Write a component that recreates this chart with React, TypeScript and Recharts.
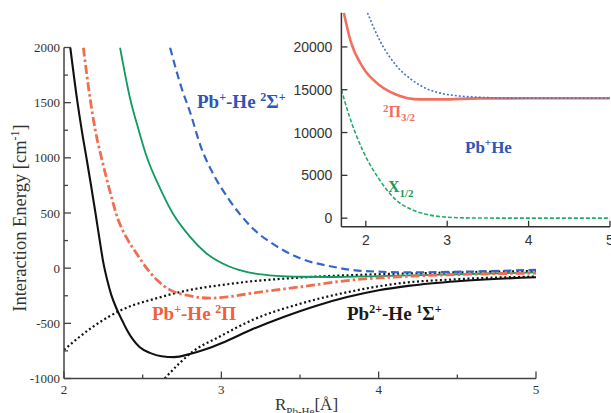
import React from "react";
import { LineChart, Line, XAxis, YAxis } from "recharts";

// ---------- main panel data ----------
const pb2SigmaR = [2.04, 2.083, 2.114, 2.145, 2.173, 2.2, 2.225, 2.25, 2.275, 2.3, 2.335, 2.37, 2.4, 2.44, 2.48, 2.55, 2.62, 2.7, 2.8, 2.9, 3.0, 3.2, 3.4, 3.6, 3.8, 4.0, 4.2, 4.5, 5.0];
const pb2SigmaE = [2000, 1530, 1240, 980, 740, 500, 270, 50, -110, -240, -370, -475, -560, -650, -715, -770, -798, -806, -778, -735, -680, -552, -440, -342, -262, -200, -158, -118, -82];

const pbPiR = [2.123, 2.167, 2.199, 2.24, 2.284, 2.345, 2.4, 2.46, 2.525, 2.59, 2.674, 2.8, 2.93, 3.055, 3.2, 3.35, 3.5, 3.65, 3.8, 4.1, 4.5, 5.0];
const pbPiE = [2000, 1526, 1250, 990, 740, 437, 270, 136, 0, -106, -197, -251, -272, -257, -225, -197, -170, -140, -112, -80, -58, -45];

const greenR = [2.356, 2.422, 2.475, 2.528, 2.602, 2.69, 2.8, 2.9, 3.05, 3.18, 3.35, 3.5, 3.7, 4.0, 4.5, 5.0];
const greenE = [2000, 1526, 1250, 1000, 750, 500, 286, 140, 15, -40, -70, -78, -80, -72, -55, -38];

const pbSigmaR = [2.674, 2.75, 2.8, 2.87, 2.95, 3.05, 3.2, 3.35, 3.5, 3.7, 3.9, 4.2, 4.6, 5.0];
const pbSigmaE = [2000, 1620, 1420, 1100, 850, 620, 360, 200, 90, 15, -25, -38, -30, -15];

const dotUpperR = [2.0, 2.186, 2.377, 2.59, 2.8, 3.01, 3.18, 3.35, 3.56, 4.0, 4.5, 5.0];
const dotUpperE = [-740, -529, -371, -272, -197, -151, -121, -100, -80, -55, -38, -25];

const dotLowerR = [2.64, 2.735, 2.82, 2.99, 3.2, 3.5, 3.82, 4.14, 4.5, 5.0];
const dotLowerE = [-1000, -860, -755, -620, -468, -323, -212, -136, -100, -76];

// ---------- inset data ----------
const insPiR = [1.73, 1.81, 1.96, 2.17, 2.37, 2.66, 2.93, 3.39, 4.0, 5.0];
const insPiE = [24000, 20780, 17670, 15530, 14450, 13870, 13870, 13990, 14000, 14000];

const insSigmaR = [2.02, 2.17, 2.37, 2.57, 2.77, 3.17, 3.58, 4.0, 5.0];
const insSigmaE = [24000, 20780, 17870, 16120, 15030, 14250, 14060, 14000, 14000];

const insXR = [1.7, 1.8, 1.96, 2.17, 2.37, 2.57, 2.77, 2.98, 3.3, 4.0, 5.0];
const insXE = [15000, 11840, 7960, 4460, 2130, 970, 390, 120, 20, 0, 0];

// ---------- ticks ----------
const mainXTicks = [2, 2.5, 3, 3.5, 4, 4.5, 5];
const mainYTicks = [-1000, -750, -500, -250, 0, 250, 500, 750, 1000, 1250, 1500, 1750, 2000];
const insXTicks = [2, 3, 4, 5];
const insYTicks = [0, 5000, 10000, 15000, 20000];

const zip = (r: number[], e: number[]) => r.map((x, i) => ({ x, y: e[i] }));

const SERIF = "'Liberation Serif', 'Times New Roman', serif";
const SANS = "'Liberation Sans', Arial, sans-serif";
const FRAME = "#444";

const isMajorX = (v: number) => Number.isInteger(v);
const isMajorY = (v: number) => v % 500 === 0;

const MainBottomTick = (p: any) => {
  const v = p.payload.value;
  const major = isMajorX(v);
  return (
    <g>
      <line x1={p.x} y1={p.y} x2={p.x} y2={p.y - (major ? 7 : 4)} stroke={FRAME} strokeWidth={1.3} />
      {major && (
        <text x={p.x} y={p.y + 15} textAnchor="middle" fontFamily={SERIF} fontSize={13} fill="#333">
          {v}
        </text>
      )}
    </g>
  );
};
const MainTopTick = (p: any) => {
  const major = isMajorX(p.payload.value);
  return <line x1={p.x} y1={p.y} x2={p.x} y2={p.y + (major ? 7 : 4)} stroke={FRAME} strokeWidth={1.3} />;
};
const MainLeftTick = (p: any) => {
  const v = p.payload.value;
  const major = isMajorY(v);
  return (
    <g>
      <line x1={p.x} y1={p.y} x2={p.x + (major ? 7 : 4)} y2={p.y} stroke={FRAME} strokeWidth={1.3} />
      {major && (
        <text x={p.x - 4} y={p.y + 4.5} textAnchor="end" fontFamily={SERIF} fontSize={13} fill="#333">
          {v}
        </text>
      )}
    </g>
  );
};
const MainRightTick = (p: any) => {
  const major = isMajorY(p.payload.value);
  return <line x1={p.x} y1={p.y} x2={p.x - (major ? 7 : 4)} y2={p.y} stroke={FRAME} strokeWidth={1.3} />;
};

const InsBottomTick = (p: any) => (
  <g>
    <line x1={p.x} y1={p.y} x2={p.x} y2={p.y - 6} stroke="#333" strokeWidth={1.3} />
    <text x={p.x} y={p.y + 18} textAnchor="middle" fontFamily={SANS} fontSize={14} fill="#333">
      {p.payload.value}
    </text>
  </g>
);
const InsTopTick = (p: any) => <line x1={p.x} y1={p.y} x2={p.x} y2={p.y + 6} stroke="#333" strokeWidth={1.3} />;
const InsLeftTick = (p: any) => (
  <g>
    <line x1={p.x} y1={p.y} x2={p.x + 6} y2={p.y} stroke="#333" strokeWidth={1.3} />
    <text x={p.x - 9} y={p.y + 5} textAnchor="end" fontFamily={SANS} fontSize={14} fill="#333">
      {p.payload.value}
    </text>
  </g>
);
const InsRightTick = (p: any) => <line x1={p.x} y1={p.y} x2={p.x - 6} y2={p.y} stroke="#333" strokeWidth={1.3} />;

const BLACK = "#111";
const ORANGE = "#f26d50";
const GREEN = "#0f9a5e";
const BLUE = "#3565c8";

export default function App() {
  return (
    <div style={{ position: "relative", width: 611, height: 413, overflow: "hidden", background: "#fff" }}>
      <style>{`body{margin:0}`}</style>
      <div style={{ position: "absolute", left: 0, top: 0 }}>
        <LineChart width={611} height={413} margin={{ top: 47.5, right: 75, bottom: 4.5, left: 14 }}>
          <XAxis
            xAxisId="b"
            dataKey="x"
            type="number"
            domain={[2, 5]}
            ticks={mainXTicks}
            interval={0}
            allowDataOverflow
            height={30}
            tickSize={0}
            tickMargin={0}
            tickLine={false}
            axisLine={{ stroke: FRAME, strokeWidth: 1.5 }}
            tick={(p: any) => <MainBottomTick {...p} />}
          />
          <XAxis
            xAxisId="t"
            orientation="top"
            type="number"
            domain={[2, 5]}
            ticks={mainXTicks}
            interval={0}
            allowDataOverflow
            height={0}
            tickSize={0}
            tickMargin={0}
            tickLine={false}
            axisLine={{ stroke: FRAME, strokeWidth: 1.5 }}
            tick={(p: any) => <MainTopTick {...p} />}
          />
          <YAxis
            yAxisId="l"
            type="number"
            domain={[-1000, 2000]}
            ticks={mainYTicks}
            interval={0}
            allowDataOverflow
            width={50}
            tickSize={0}
            tickMargin={0}
            tickLine={false}
            axisLine={{ stroke: FRAME, strokeWidth: 1.5 }}
            tick={(p: any) => <MainLeftTick {...p} />}
          />
          <YAxis
            yAxisId="r"
            orientation="right"
            type="number"
            domain={[-1000, 2000]}
            ticks={mainYTicks}
            interval={0}
            allowDataOverflow
            width={0}
            tickSize={0}
            tickMargin={0}
            tickLine={false}
            axisLine={{ stroke: FRAME, strokeWidth: 1.5 }}
            tick={(p: any) => <MainRightTick {...p} />}
          />
          <Line xAxisId="b" yAxisId="l" data={zip(dotUpperR, dotUpperE)} dataKey="y" type="monotone" stroke={BLACK} strokeWidth={2.2} strokeDasharray="2 2.6" dot={false} activeDot={false} isAnimationActive={false} />
          <Line xAxisId="b" yAxisId="l" data={zip(dotLowerR, dotLowerE)} dataKey="y" type="monotone" stroke={BLACK} strokeWidth={2.2} strokeDasharray="2 2.6" dot={false} activeDot={false} isAnimationActive={false} />
          <Line xAxisId="b" yAxisId="l" data={zip(pbSigmaR, pbSigmaE)} dataKey="y" type="monotone" stroke={BLUE} strokeWidth={2.2} strokeDasharray="8 4.5" dot={false} activeDot={false} isAnimationActive={false} />
          <Line xAxisId="b" yAxisId="l" data={zip(greenR, greenE)} dataKey="y" type="monotone" stroke={GREEN} strokeWidth={1.8} dot={false} activeDot={false} isAnimationActive={false} />
          <Line xAxisId="b" yAxisId="l" data={zip(pbPiR, pbPiE)} dataKey="y" type="monotone" stroke={ORANGE} strokeWidth={2.8} strokeDasharray="9 3 2.5 3" dot={false} activeDot={false} isAnimationActive={false} />
          <Line xAxisId="b" yAxisId="l" data={zip(pb2SigmaR, pb2SigmaE)} dataKey="y" type="monotone" stroke={BLACK} strokeWidth={2.1} dot={false} activeDot={false} isAnimationActive={false} />
        </LineChart>
      </div>

      <div style={{ position: "absolute", left: 289, top: 0, width: 322, height: 250, background: "#fff" }}>
        <LineChart width={322} height={250} margin={{ top: 12.7, right: 1, bottom: 3.3, left: 7.4 }}>
          <XAxis
            xAxisId="b"
            dataKey="x"
            type="number"
            domain={[1.7, 5]}
            ticks={insXTicks}
            interval={0}
            allowDataOverflow
            height={20}
            tickSize={0}
            tickMargin={0}
            tickLine={false}
            axisLine={{ stroke: "#333", strokeWidth: 1.5 }}
            tick={(p: any) => <InsBottomTick {...p} />}
          />
          <XAxis
            xAxisId="t"
            orientation="top"
            type="number"
            domain={[1.7, 5]}
            ticks={insXTicks}
            interval={0}
            allowDataOverflow
            height={0}
            tickSize={0}
            tickMargin={0}
            tickLine={false}
            axisLine={{ stroke: "#333", strokeWidth: 1.5 }}
            tick={(p: any) => <InsTopTick {...p} />}
          />
          <YAxis
            yAxisId="l"
            type="number"
            domain={[-1000, 24000]}
            ticks={insYTicks}
            interval={0}
            allowDataOverflow
            width={45}
            tickSize={0}
            tickMargin={0}
            tickLine={false}
            axisLine={{ stroke: "#333", strokeWidth: 1.5 }}
            tick={(p: any) => <InsLeftTick {...p} />}
          />
          <YAxis
            yAxisId="r"
            orientation="right"
            type="number"
            domain={[-1000, 24000]}
            ticks={insYTicks}
            interval={0}
            allowDataOverflow
            width={0}
            tickSize={0}
            tickMargin={0}
            tickLine={false}
            axisLine={{ stroke: "#333", strokeWidth: 1.5 }}
            tick={(p: any) => <InsRightTick {...p} />}
          />
          <Line xAxisId="b" yAxisId="l" data={zip(insXR, insXE)} dataKey="y" type="monotone" stroke="#1fae6a" strokeWidth={1.6} strokeDasharray="4 2" dot={false} activeDot={false} isAnimationActive={false} />
          <Line xAxisId="b" yAxisId="l" data={zip(insPiR, insPiE)} dataKey="y" type="monotone" stroke="#f07060" strokeWidth={2.6} dot={false} activeDot={false} isAnimationActive={false} />
          <Line xAxisId="b" yAxisId="l" data={zip(insSigmaR, insSigmaE)} dataKey="y" type="monotone" stroke="#4a70d0" strokeWidth={1.6} strokeDasharray="2 2" dot={false} activeDot={false} isAnimationActive={false} />
        </LineChart>
      </div>

      <svg width={611} height={413} style={{ position: "absolute", left: 0, top: 0, pointerEvents: "none" }}>
        <text transform="translate(26,218) rotate(-90)" textAnchor="middle" fontFamily={SERIF} fontSize={18.5} fill="#333">
          Interaction Energy [cm<tspan dy={-7} fontSize={12}>-1</tspan><tspan dy={7}>]</tspan>
        </text>
        <text x={275} y={410} fontFamily={SERIF} fontSize={17} fill="#333">
          R<tspan dy={5} fontSize={11}>Pb-He</tspan><tspan dy={-5}>[Å]</tspan>
        </text>

        <text x={197} y={108} fontFamily={SERIF} fontSize={19} fontWeight="bold" fill="#2f55b5">
          Pb<tspan dy={-7} fontSize={12}>+</tspan><tspan dy={7}>-He </tspan><tspan dy={-7} fontSize={12}>2</tspan><tspan dy={7}>Σ</tspan><tspan dy={-7} fontSize={12}>+</tspan>
        </text>
        <text x={152} y={320} fontFamily={SERIF} fontSize={19} fontWeight="bold" fill="#f0603c">
          Pb<tspan dy={-7} fontSize={12}>+</tspan><tspan dy={7}>-He </tspan><tspan dy={-7} fontSize={12}>2</tspan><tspan dy={7}>Π</tspan>
        </text>
        <text x={347} y={320} fontFamily={SERIF} fontSize={19} fontWeight="bold" fill="#1a1a1a">
          Pb<tspan dy={-7} fontSize={12}>2+</tspan><tspan dy={7}>-He </tspan><tspan dy={-7} fontSize={12}>1</tspan><tspan dy={7}>Σ</tspan><tspan dy={-7} fontSize={12}>+</tspan>
        </text>

        <text x={383} y={117} fontFamily={SERIF} fontSize={16} fontWeight="bold" fill="#f07060">
          <tspan dy={-5} fontSize={11}>2</tspan><tspan dy={5}>Π</tspan><tspan dy={4} fontSize={11}>3/2</tspan>
        </text>
        <text x={465} y={153} fontFamily={SERIF} fontSize={17} fontWeight="bold" fill="#2f55b5">
          Pb<tspan dy={-7} fontSize={11}>+</tspan><tspan dy={7}>He</tspan>
        </text>
        <text x={388} y={192} fontFamily={SERIF} fontSize={16} fontWeight="bold" fill="#1a9a50">
          X<tspan dy={5} fontSize={11}>1/2</tspan>
        </text>
      </svg>
    </div>
  );
}
